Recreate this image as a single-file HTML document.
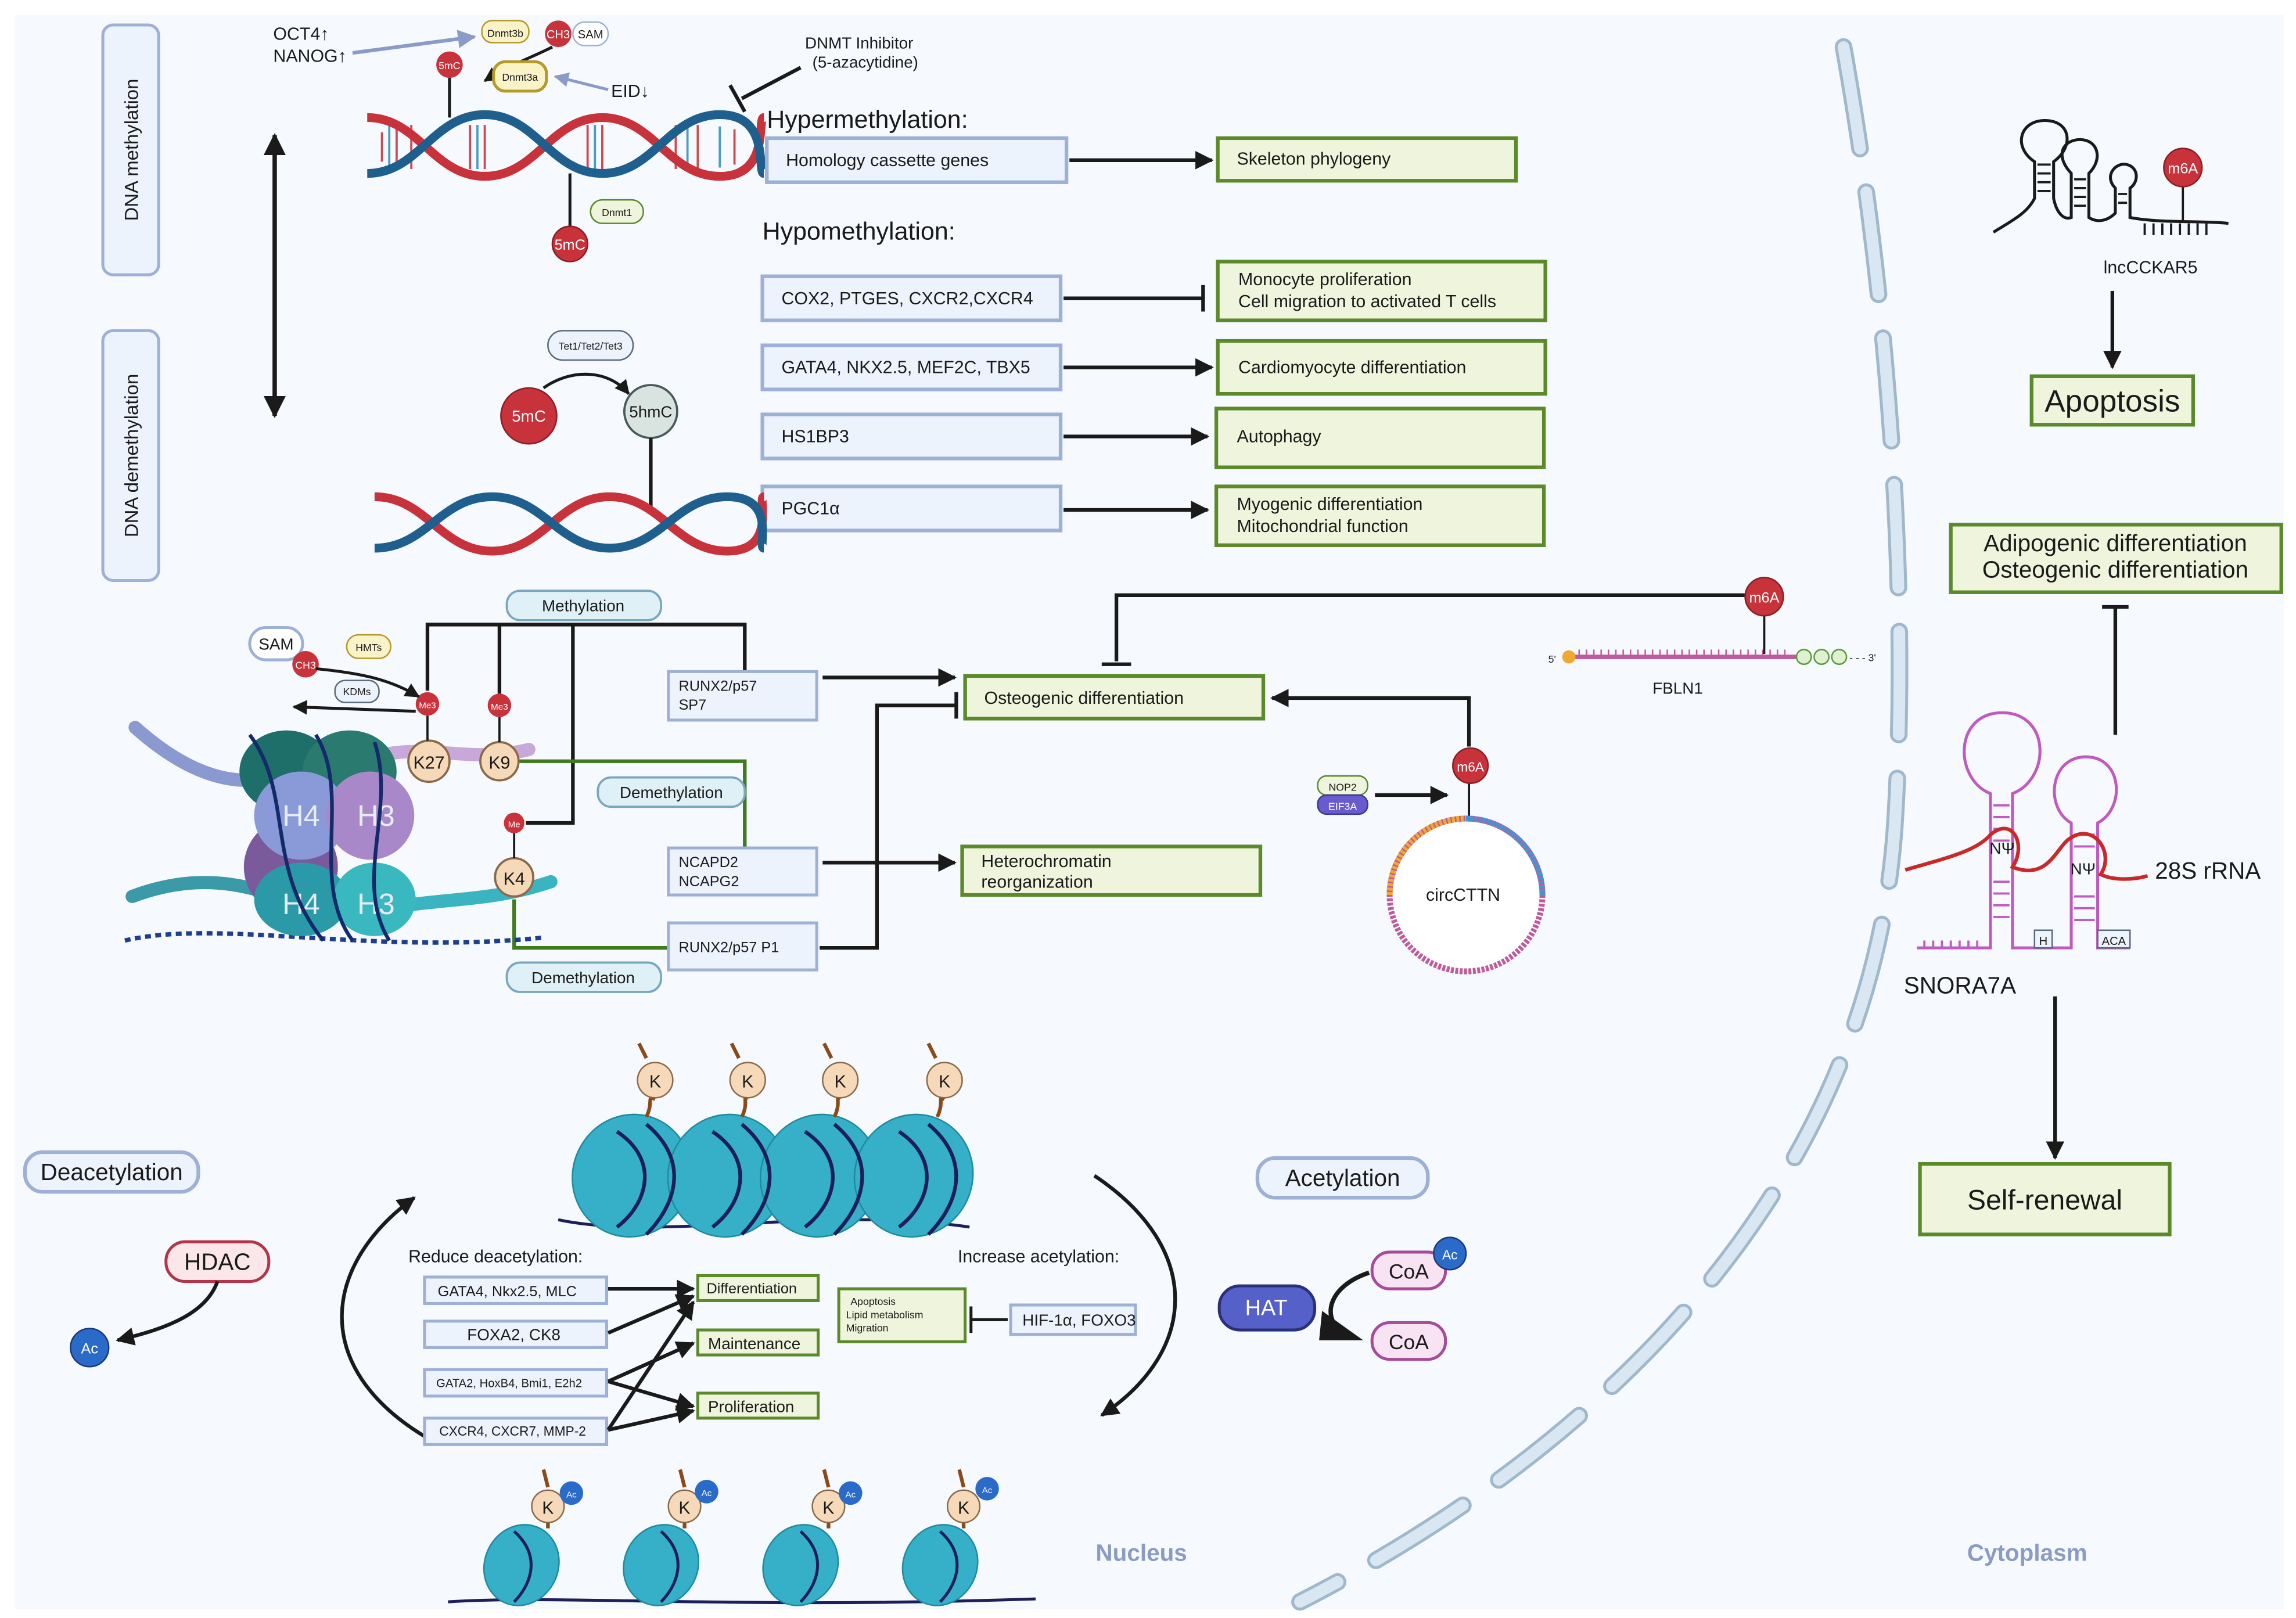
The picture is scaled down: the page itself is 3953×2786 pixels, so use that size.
<!DOCTYPE html>
<html><head><meta charset="utf-8">
<style>
html,body{margin:0;padding:0;background:#fff;}
svg{display:block;}
text{font-family:"Liberation Sans",sans-serif;fill:#1a1a1a;}
</style></head>
<body>
<svg width="3953" height="2786" viewBox="0 0 1563 1101" preserveAspectRatio="none" xmlns="http://www.w3.org/2000/svg">
<defs>
<marker id="ah" viewBox="0 0 10 10" refX="9" refY="5" markerWidth="5" markerHeight="5" orient="auto-start-reverse"><path d="M0,0 L10,5 L0,10 z" fill="#1a1a1a"/></marker>
<marker id="ahg" viewBox="0 0 10 10" refX="9" refY="5" markerWidth="5" markerHeight="5" orient="auto"><path d="M0,0 L10,5 L0,10 z" fill="#8a9bc8"/></marker>
</defs>
<rect x="0" y="0" width="1563" height="1101" fill="#fff"/>
<rect x="10" y="10" width="1545" height="1085" fill="#f6f9fe"/>

<!-- nuclear membrane dashed -->
<path d="M1255,32 C1285,200 1300,400 1290,560 C1275,800 1100,980 885,1090" fill="none" stroke="#9fb8cc" stroke-width="12" stroke-dasharray="70,30" stroke-linecap="round"/>
<path d="M1255,32 C1285,200 1300,400 1290,560 C1275,800 1100,980 885,1090" fill="none" stroke="#d8e7f2" stroke-width="8" stroke-dasharray="70,30" stroke-linecap="round"/>

<!-- side boxes -->
<rect x="70" y="17" width="38" height="170" rx="7" fill="#edf3fc" stroke="#9db1d6" stroke-width="2"/>
<text transform="translate(94,102) rotate(-90)" text-anchor="middle" font-size="13">DNA methylation</text>
<rect x="70" y="225" width="38" height="170" rx="7" fill="#edf3fc" stroke="#9db1d6" stroke-width="2"/>
<text transform="translate(94,310) rotate(-90)" text-anchor="middle" font-size="13">DNA demethylation</text>
<line x1="187" y1="92" x2="187" y2="283" stroke="#1a1a1a" stroke-width="3" marker-start="url(#ah)" marker-end="url(#ah)"/>

<!-- DNA helix top -->
<g stroke-width="1.5">
<g stroke="#d0484f">
<line x1="260" y1="90" x2="260" y2="110"/><line x1="270" y1="85" x2="270" y2="115"/><line x1="280" y1="85" x2="280" y2="115"/><line x1="320" y1="85" x2="320" y2="115"/><line x1="330" y1="85" x2="330" y2="115"/><line x1="400" y1="85" x2="400" y2="115"/><line x1="410" y1="85" x2="410" y2="115"/><line x1="460" y1="85" x2="460" y2="115"/><line x1="475" y1="85" x2="475" y2="115"/><line x1="500" y1="88" x2="500" y2="112"/>
</g>
<g stroke="#4a9cc8"><line x1="265" y1="85" x2="265" y2="115"/><line x1="325" y1="85" x2="325" y2="115"/><line x1="405" y1="85" x2="405" y2="115"/><line x1="468" y1="85" x2="468" y2="115"/><line x1="490" y1="86" x2="490" y2="114"/></g>
</g>
<path d="M250,80 C285,80 295,120 330,120 S375,80 410,80 S455,120 490,120 S515,80 520,80" fill="none" stroke="#c8323a" stroke-width="6"/>
<path d="M250,118 C285,118 295,78 330,78 S375,118 410,118 S455,78 490,78 S515,118 520,118" fill="none" stroke="#1e5f8e" stroke-width="6"/>

<!-- top labels -->
<text x="186" y="27" font-size="12">OCT4↑</text>
<text x="186" y="42" font-size="12">NANOG↑</text>
<line x1="240" y1="36" x2="323" y2="25" stroke="#8a9bc8" stroke-width="2.5" marker-end="url(#ahg)"/>
<rect x="328" y="14" width="32" height="15" rx="7" fill="#fbf3c8" stroke="#b59a2a"/><text x="344" y="25" font-size="7" text-anchor="middle">Dnmt3b</text>
<circle cx="380" cy="23" r="9" fill="#c8323a"/><text x="380" y="26" font-size="8" text-anchor="middle" style="fill:#fff">CH3</text>
<rect x="390" y="15" width="24" height="16" rx="8" fill="#fff" stroke="#9db1d6"/><text x="402" y="26" font-size="8" text-anchor="middle">SAM</text>
<path d="M376,32 C360,40 345,45 330,55" fill="none" stroke="#1a1a1a" stroke-width="2" marker-end="url(#ah)"/>
<circle cx="306" cy="44" r="9" fill="#c8323a"/><text x="306" y="47" font-size="7" text-anchor="middle" style="fill:#fff">5mC</text>
<line x1="306" y1="53" x2="306" y2="80" stroke="#1a1a1a" stroke-width="2"/>
<rect x="336" y="42" width="36" height="20" rx="8" fill="#fbf3c8" stroke="#b59a2a" stroke-width="2"/><text x="354" y="55" font-size="7" text-anchor="middle">Dnmt3a</text>
<line x1="414" y1="61" x2="378" y2="52" stroke="#8a9bc8" stroke-width="2" marker-end="url(#ahg)"/>
<text x="416" y="66" font-size="12">EID↓</text>
<line x1="388" y1="118" x2="388" y2="156" stroke="#1a1a1a" stroke-width="2"/>
<circle cx="388" cy="166" r="12" fill="#c8323a" stroke="#8a1e24"/><text x="388" y="170" font-size="10" text-anchor="middle" style="fill:#fff">5mC</text>
<rect x="402" y="136" width="36" height="16" rx="8" fill="#eef5dc" stroke="#5a8a2a"/><text x="420" y="147" font-size="7" text-anchor="middle">Dnmt1</text>
<text x="548" y="33" font-size="11">DNMT Inhibitor</text>
<text x="553" y="46" font-size="11">(5-azacytidine)</text>
<line x1="545" y1="46" x2="505" y2="67" stroke="#1a1a1a" stroke-width="2.5"/>
<line x1="497" y1="58" x2="507" y2="76" stroke="#1a1a1a" stroke-width="2.5"/>

<!-- methylation list -->
<text x="522" y="87" font-size="17">Hypermethylation:</text>
<g font-size="12">
<rect x="522" y="94" width="204" height="30" fill="#edf3fc" stroke="#9db1d6" stroke-width="2.5"/><text x="535" y="113">Homology cassette genes</text>
<line x1="728" y1="109" x2="825" y2="109" stroke="#1a1a1a" stroke-width="2.5" marker-end="url(#ah)"/>
<rect x="829" y="94" width="203" height="29" fill="#eef5dc" stroke="#5a8a2a" stroke-width="2.5"/><text x="842" y="112">Skeleton phylogeny</text>
</g>
<text x="519" y="163" font-size="17">Hypomethylation:</text>
<g font-size="12">
<rect x="519" y="188" width="203" height="30" fill="#edf3fc" stroke="#9db1d6" stroke-width="2.5"/><text x="532" y="207">COX2, PTGES, CXCR2,CXCR4</text>
<line x1="724" y1="203" x2="818" y2="203" stroke="#1a1a1a" stroke-width="2.5"/><line x1="819" y1="194" x2="819" y2="212" stroke="#1a1a1a" stroke-width="2.5"/>
<rect x="829" y="178" width="223" height="40" fill="#eef5dc" stroke="#5a8a2a" stroke-width="2.5"/><text x="843" y="194">Monocyte proliferation</text><text x="843" y="209">Cell migration to activated T cells</text>
<rect x="519" y="235" width="203" height="30" fill="#edf3fc" stroke="#9db1d6" stroke-width="2.5"/><text x="532" y="254">GATA4, NKX2.5, MEF2C, TBX5</text>
<line x1="724" y1="250" x2="825" y2="250" stroke="#1a1a1a" stroke-width="2.5" marker-end="url(#ah)"/>
<rect x="829" y="232" width="223" height="36" fill="#eef5dc" stroke="#5a8a2a" stroke-width="2.5"/><text x="843" y="254">Cardiomyocyte differentiation</text>
<rect x="519" y="282" width="203" height="30" fill="#edf3fc" stroke="#9db1d6" stroke-width="2.5"/><text x="532" y="301">HS1BP3</text>
<line x1="724" y1="297" x2="822" y2="297" stroke="#1a1a1a" stroke-width="2.5" marker-end="url(#ah)"/>
<rect x="828" y="278" width="223" height="40" fill="#eef5dc" stroke="#5a8a2a" stroke-width="2.5"/><text x="842" y="301">Autophagy</text>
<rect x="519" y="331" width="203" height="30" fill="#edf3fc" stroke="#9db1d6" stroke-width="2.5"/><text x="532" y="350">PGC1α</text>
<line x1="724" y1="347" x2="822" y2="347" stroke="#1a1a1a" stroke-width="2.5" marker-end="url(#ah)"/>
<rect x="828" y="331" width="223" height="40" fill="#eef5dc" stroke="#5a8a2a" stroke-width="2.5"/><text x="842" y="347">Myogenic differentiation</text><text x="842" y="362">Mitochondrial function</text>
</g>

<!-- demethylation helix -->
<rect x="373" y="225" width="58" height="20" rx="10" fill="#edf3fc" stroke="#5a6a7a"/><text x="402" y="238" font-size="7" text-anchor="middle">Tet1/Tet2/Tet3</text>
<path d="M370,264 C390,250 415,252 428,268" fill="none" stroke="#1a1a1a" stroke-width="2" marker-end="url(#ah)"/>
<circle cx="360" cy="283" r="19" fill="#c8323a" stroke="#8a1e24"/><text x="360" y="287" font-size="11" text-anchor="middle" style="fill:#fff">5mC</text>
<circle cx="443" cy="280" r="18" fill="#d9e4e0" stroke="#4a5a5a" stroke-width="1.5"/><text x="443" y="284" font-size="11" text-anchor="middle">5hmC</text>
<line x1="443" y1="298" x2="443" y2="345" stroke="#1a1a1a" stroke-width="2.5"/>
<path d="M255,338 C290,338 300,375 335,375 S380,338 415,338 S460,375 495,375 S515,338 520,338" fill="none" stroke="#c8323a" stroke-width="6"/>
<path d="M255,373 C290,373 300,338 335,338 S380,373 415,373 S460,338 495,338 S515,373 520,373" fill="none" stroke="#1e5f8e" stroke-width="6"/>

<!-- histone methylation -->
<rect x="345" y="402" width="105" height="20" rx="9" fill="#dff1f6" stroke="#7aa7c0" stroke-width="1.5"/><text x="397" y="416" font-size="11" text-anchor="middle">Methylation</text>
<g stroke="#1a1a1a" stroke-width="2.5" fill="none">
<path d="M291,470 L291,425 L507,425 L507,457"/>
<line x1="340" y1="425" x2="340" y2="472"/>
<path d="M390,425 L390,560 L358,560"/>
</g>
<g stroke="#3f7a1e" stroke-width="2.5" fill="none">
<path d="M352,518 L507,518 L507,577"/>
<path d="M350,612 L350,645 L455,645"/>
</g>
<rect x="407" y="529" width="100" height="20" rx="9" fill="#dff1f6" stroke="#7aa7c0" stroke-width="1.5"/><text x="457" y="543" font-size="11" text-anchor="middle">Demethylation</text>
<rect x="345" y="655" width="105" height="20" rx="9" fill="#dff1f6" stroke="#7aa7c0" stroke-width="1.5"/><text x="397" y="669" font-size="11" text-anchor="middle">Demethylation</text>
<g font-size="10">
<rect x="455" y="457" width="101" height="33" fill="#edf3fc" stroke="#9db1d6" stroke-width="2"/><text x="462" y="470">RUNX2/p57</text><text x="462" y="483">SP7</text>
<rect x="455" y="577" width="101" height="32" fill="#edf3fc" stroke="#9db1d6" stroke-width="2"/><text x="462" y="590">NCAPD2</text><text x="462" y="603">NCAPG2</text>
<rect x="455" y="628" width="101" height="32" fill="#edf3fc" stroke="#9db1d6" stroke-width="2"/><text x="462" y="648">RUNX2/p57 P1</text>
</g>
<line x1="560" y1="461" x2="650" y2="461" stroke="#1a1a1a" stroke-width="2.5" marker-end="url(#ah)"/>
<line x1="560" y1="587" x2="650" y2="587" stroke="#1a1a1a" stroke-width="2.5" marker-end="url(#ah)"/>
<path d="M558,645 L597,645 L597,480 L650,480" fill="none" stroke="#1a1a1a" stroke-width="2.5"/><line x1="651" y1="471" x2="651" y2="489" stroke="#1a1a1a" stroke-width="2.5"/>
<rect x="657" y="460" width="203" height="29" fill="#eef5dc" stroke="#5a8a2a" stroke-width="2.5"/><text x="670" y="479" font-size="12">Osteogenic differentiation</text>
<rect x="655" y="576" width="203" height="33" fill="#eef5dc" stroke="#5a8a2a" stroke-width="2.5"/><text x="668" y="590" font-size="12">Heterochromatin</text><text x="668" y="604" font-size="12">reorganization</text>
<path d="M1190,405 L760,405 L760,450" fill="none" stroke="#1a1a1a" stroke-width="2.5"/><line x1="750" y1="452" x2="770" y2="452" stroke="#1a1a1a" stroke-width="2.5"/>
<!-- FBLN1 -->
<line x1="1068" y1="447" x2="1225" y2="447" stroke="#c05a9a" stroke-width="3"/>
<g stroke="#c05a9a" stroke-width="1"><path d="M1075,442 v5 M1080,442 v5 M1085,442 v5 M1090,442 v5 M1095,442 v5 M1100,442 v5 M1105,442 v5 M1110,442 v5 M1115,442 v5 M1120,442 v5 M1125,442 v5 M1130,442 v5 M1135,442 v5 M1140,442 v5 M1145,442 v5 M1150,442 v5 M1155,442 v5 M1160,442 v5 M1165,442 v5 M1170,442 v5 M1175,442 v5 M1180,442 v5 M1185,442 v5 M1190,442 v5 M1195,442 v5 M1200,442 v5 M1205,442 v5 M1210,442 v5 M1215,442 v5"/></g>
<text x="1054" y="451" font-size="7">5'</text><circle cx="1068" cy="447" r="4.5" fill="#f0a830"/>
<circle cx="1228" cy="447" r="5" fill="#dff2d0" stroke="#5a9a3a"/><circle cx="1240" cy="447" r="5" fill="#dff2d0" stroke="#5a9a3a"/><circle cx="1252" cy="447" r="5" fill="#dff2d0" stroke="#5a9a3a"/>
<text x="1259" y="450" font-size="7">- - - 3'</text>
<line x1="1201" y1="418" x2="1201" y2="445" stroke="#1a1a1a" stroke-width="1.5"/>
<circle cx="1201" cy="406" r="13" fill="#c8323a" stroke="#8a1e24"/><text x="1201" y="410" font-size="10" text-anchor="middle" style="fill:#fff">m6A</text>
<text x="1125" y="472" font-size="11">FBLN1</text>
<!-- circCTTN -->
<path d="M1000,508 L1000,475 L866,475" fill="none" stroke="#1a1a1a" stroke-width="2.5" marker-end="url(#ah)"/>
<line x1="1000" y1="533" x2="1000" y2="556" stroke="#1a1a1a" stroke-width="1.5"/>
<circle cx="1001" cy="521" r="12" fill="#c8323a" stroke="#8a1e24"/><text x="1001" y="525" font-size="9" text-anchor="middle" style="fill:#fff">m6A</text>
<circle cx="998" cy="609" r="52" fill="#fff" stroke="#c05a9a" stroke-width="4" stroke-dasharray="2,1"/>
<path d="M998,557 A52,52 0 0 1 1050,609" fill="none" stroke="#3a9ad8" stroke-width="4" stroke-dasharray="2,1"/>
<path d="M946,609 A52,52 0 0 1 998,557" fill="none" stroke="#f0a830" stroke-width="4" stroke-dasharray="2,1"/>
<text x="996" y="613" font-size="12" text-anchor="middle">circCTTN</text>
<rect x="897" y="528" width="34" height="13" rx="6" fill="#eef5dc" stroke="#5a8a2a"/><text x="914" y="538" font-size="7" text-anchor="middle">NOP2</text>
<rect x="897" y="541" width="34" height="13" rx="6" fill="#6a5ad0" stroke="#3a3a90"/><text x="914" y="551" font-size="7" text-anchor="middle" style="fill:#fff">EIF3A</text>
<line x1="936" y1="541" x2="985" y2="541" stroke="#1a1a1a" stroke-width="2.5" marker-end="url(#ah)"/>

<!-- nucleosome -->
<path d="M85,640 C150,625 250,650 370,638" fill="none" stroke="#1e3f8e" stroke-width="3" stroke-dasharray="4,3"/>
<path d="M92,495 C120,520 150,535 180,530" fill="none" stroke="#8a9ad0" stroke-width="9" stroke-linecap="round"/>
<path d="M90,610 C130,595 160,600 190,610" fill="none" stroke="#3a9aa8" stroke-width="9" stroke-linecap="round"/>
<path d="M255,515 C290,505 320,520 360,510" fill="none" stroke="#c8a8d8" stroke-width="9" stroke-linecap="round"/>
<path d="M255,620 C300,610 330,615 375,600" fill="none" stroke="#3ab4c0" stroke-width="9" stroke-linecap="round"/>
<ellipse cx="195" cy="525" rx="32" ry="28" fill="#1e6e6a"/>
<ellipse cx="238" cy="525" rx="32" ry="28" fill="#2a7a70"/>
<ellipse cx="198" cy="590" rx="32" ry="33" fill="#7a5a9a"/>
<ellipse cx="205" cy="555" rx="32" ry="30" fill="#8a9ad8"/>
<ellipse cx="252" cy="555" rx="30" ry="30" fill="#a888c8"/>
<ellipse cx="205" cy="612" rx="32" ry="25" fill="#2a9aa8"/>
<ellipse cx="255" cy="612" rx="28" ry="25" fill="#3ab8c0"/>
<text x="205" y="562" font-size="20" text-anchor="middle" style="fill:#e6ecf8">H4</text>
<text x="256" y="562" font-size="20" text-anchor="middle" style="fill:#e6ecf8">H3</text>
<text x="205" y="622" font-size="20" text-anchor="middle" style="fill:#e6ecf8">H4</text>
<text x="256" y="622" font-size="20" text-anchor="middle" style="fill:#e6ecf8">H3</text>
<path d="M170,500 C200,540 180,590 220,640 M215,500 C240,540 210,600 240,640 M255,505 C270,550 240,600 265,640" fill="none" stroke="#142a6a" stroke-width="2.5"/>
<circle cx="292" cy="518" r="14" fill="#f5d9b8" stroke="#8a6a4a" stroke-width="1.5"/><text x="292" y="523" font-size="12" text-anchor="middle">K27</text>
<circle cx="340" cy="518" r="13" fill="#f5d9b8" stroke="#8a6a4a" stroke-width="1.5"/><text x="340" y="523" font-size="12" text-anchor="middle">K9</text>
<circle cx="350" cy="597" r="13" fill="#f5d9b8" stroke="#8a6a4a" stroke-width="1.5"/><text x="350" y="602" font-size="12" text-anchor="middle">K4</text>
<line x1="350" y1="567" x2="350" y2="584" stroke="#1a1a1a" stroke-width="1.5"/>
<circle cx="291" cy="479" r="8" fill="#c8323a"/><text x="291" y="482" font-size="6" text-anchor="middle" style="fill:#fff">Me3</text>
<circle cx="340" cy="480" r="8" fill="#c8323a"/><text x="340" y="483" font-size="6" text-anchor="middle" style="fill:#fff">Me3</text>
<circle cx="350" cy="560" r="7" fill="#c8323a"/><text x="350" y="563" font-size="6" text-anchor="middle" style="fill:#fff">Me</text>
<line x1="291" y1="487" x2="291" y2="504" stroke="#1a1a1a" stroke-width="1.5"/><line x1="340" y1="488" x2="340" y2="505" stroke="#1a1a1a" stroke-width="1.5"/>
<rect x="170" y="427" width="36" height="22" rx="11" fill="#fff" stroke="#9db1d6" stroke-width="2"/><text x="188" y="442" font-size="11" text-anchor="middle">SAM</text>
<circle cx="208" cy="452" r="9" fill="#c8323a"/><text x="208" y="455" font-size="7" text-anchor="middle" style="fill:#fff">CH3</text>
<rect x="236" y="432" width="30" height="16" rx="8" fill="#fbf3c8" stroke="#b59a2a"/><text x="251" y="443" font-size="7" text-anchor="middle">HMTs</text>
<rect x="228" y="463" width="30" height="15" rx="7" fill="#edf3fc" stroke="#5a6a7a"/><text x="243" y="473" font-size="7" text-anchor="middle">KDMs</text>
<path d="M215,455 C245,458 265,462 285,474" fill="none" stroke="#1a1a1a" stroke-width="2" marker-end="url(#ah)"/>
<line x1="283" y1="484" x2="200" y2="481" stroke="#1a1a1a" stroke-width="2" marker-end="url(#ah)"/>

<!-- bottom deacetylation -->
<rect x="17" y="784" width="118" height="27" rx="12" fill="#edf3fc" stroke="#9db1d6" stroke-width="2.5"/><text x="76" y="803" font-size="16" text-anchor="middle">Deacetylation</text>
<rect x="113" y="845" width="70" height="27" rx="13" fill="#fbe6ea" stroke="#b2354a" stroke-width="2"/><text x="148" y="864" font-size="16" text-anchor="middle">HDAC</text>
<path d="M148,872 C140,895 110,905 80,912" fill="none" stroke="#1a1a1a" stroke-width="2.5" marker-end="url(#ah)"/>
<circle cx="61" cy="917" r="13" fill="#2a6ac8" stroke="#1a3a7a"/><text x="61" y="921" font-size="10" text-anchor="middle" style="fill:#fff">Ac</text>

<!-- top nucleosomes row -->
<g>
<path d="M380,830 C450,845 560,820 660,835" fill="none" stroke="#1e1e5a" stroke-width="2"/>
<g fill="#36b0c8" stroke="#1e8aa0"><ellipse cx="430" cy="800" rx="40" ry="42" transform="rotate(25 430 800)"/><ellipse cx="495" cy="800" rx="40" ry="42" transform="rotate(25 495 800)"/><ellipse cx="558" cy="800" rx="40" ry="42" transform="rotate(25 558 800)"/><ellipse cx="622" cy="800" rx="40" ry="42" transform="rotate(25 622 800)"/></g>
<g fill="none" stroke="#1e1e5a" stroke-width="2.5"><path d="M420,770 C450,790 440,820 420,835 M440,765 C470,790 460,820 440,840"/><path d="M485,770 C515,790 505,820 485,835 M505,765 C535,790 525,820 505,840"/><path d="M548,770 C578,790 568,820 548,835 M568,765 C598,790 588,820 568,840"/><path d="M612,770 C642,790 632,820 612,835 M632,765 C662,790 652,820 632,840"/></g>
<g stroke="#8a4a1a" stroke-width="2.5" fill="none"><path d="M440,760 C445,750 440,745 446,748"/><path d="M505,760 C510,750 505,745 509,748"/><path d="M568,760 C573,750 568,745 572,748"/><path d="M638,760 C643,750 638,745 643,748"/><path d="M435,710 l5,10 M498,710 l5,10 M561,710 l5,10 M632,710 l5,10"/></g>
<g font-size="12" text-anchor="middle"><circle cx="446" cy="735" r="12" fill="#f5d9b8" stroke="#8a6a4a"/><text x="446" y="740">K</text><circle cx="509" cy="735" r="12" fill="#f5d9b8" stroke="#8a6a4a"/><text x="509" y="740">K</text><circle cx="572" cy="735" r="12" fill="#f5d9b8" stroke="#8a6a4a"/><text x="572" y="740">K</text><circle cx="643" cy="735" r="12" fill="#f5d9b8" stroke="#8a6a4a"/><text x="643" y="740">K</text></g>
</g>
<!-- curved arrows -->
<path d="M290,978 C210,930 220,860 282,815" fill="none" stroke="#1a1a1a" stroke-width="2.5" marker-end="url(#ah)"/>
<path d="M745,800 C820,850 815,920 750,963" fill="none" stroke="#1a1a1a" stroke-width="2.5" marker-end="url(#ah)"/>
<text x="278" y="859" font-size="12">Reduce deacetylation:</text>
<text x="652" y="859" font-size="12">Increase acetylation:</text>
<g font-size="10">
<rect x="289" y="869" width="124" height="18" fill="#edf3fc" stroke="#9db1d6" stroke-width="2"/><text x="298" y="882">GATA4,  Nkx2.5, MLC</text>
<rect x="289" y="899" width="124" height="18" fill="#edf3fc" stroke="#9db1d6" stroke-width="2"/><text x="318" y="912" font-size="11">FOXA2, CK8</text>
<rect x="289" y="932" width="124" height="18" fill="#edf3fc" stroke="#9db1d6" stroke-width="2"/><text x="297" y="944" font-size="8">GATA2, HoxB4, Bmi1, E2h2</text>
<rect x="289" y="965" width="124" height="18" fill="#edf3fc" stroke="#9db1d6" stroke-width="2"/><text x="299" y="977" font-size="9">CXCR4, CXCR7, MMP-2</text>
<rect x="475" y="868" width="82" height="17" fill="#eef5dc" stroke="#5a8a2a" stroke-width="2"/><text x="481" y="880">Differentiation</text>
<rect x="475" y="905" width="82" height="17" fill="#eef5dc" stroke="#5a8a2a" stroke-width="2"/><text x="482" y="918" font-size="11">Maintenance</text>
<rect x="475" y="948" width="82" height="17" fill="#eef5dc" stroke="#5a8a2a" stroke-width="2"/><text x="482" y="961" font-size="11">Proliferation</text>
<rect x="571" y="877" width="86" height="36" fill="#eef5dc" stroke="#5a8a2a" stroke-width="2"/><text x="579" y="888" font-size="7">Apoptosis</text><text x="576" y="897" font-size="7">Lipid metabolism</text><text x="576" y="906" font-size="7">Migration</text>
<rect x="688" y="888" width="85" height="20" fill="#edf3fc" stroke="#9db1d6" stroke-width="2"/><text x="696" y="902" font-size="11">HIF-1α, FOXO3</text>
</g>
<line x1="686" y1="898" x2="661" y2="898" stroke="#1a1a1a" stroke-width="2"/><line x1="661" y1="889" x2="661" y2="907" stroke="#1a1a1a" stroke-width="2"/>
<g stroke="#1a1a1a" stroke-width="2.5" marker-end="url(#ah)">
<line x1="414" y1="877" x2="472" y2="877"/>
<line x1="414" y1="907" x2="472" y2="882"/>
<line x1="414" y1="940" x2="472" y2="914"/>
<line x1="414" y1="940" x2="472" y2="957"/>
<line x1="414" y1="973" x2="472" y2="886"/>
<line x1="414" y1="973" x2="472" y2="960"/>
</g>
<!-- acetylation -->
<rect x="856" y="788" width="116" height="27" rx="12" fill="#edf3fc" stroke="#9db1d6" stroke-width="2.5"/><text x="914" y="807" font-size="16" text-anchor="middle">Acetylation</text>
<rect x="830" y="875" width="65" height="30" rx="14" fill="#5560c8" stroke="#2a307a" stroke-width="2"/><text x="862" y="895" font-size="15" text-anchor="middle" style="fill:#fff">HAT</text>
<rect x="934" y="852" width="50" height="25" rx="12" fill="#f8e3f3" stroke="#a64b9a" stroke-width="2"/><text x="959" y="870" font-size="14" text-anchor="middle">CoA</text>
<circle cx="987" cy="853" r="11" fill="#2a6ac8" stroke="#1a3a7a"/><text x="987" y="857" font-size="9" text-anchor="middle" style="fill:#fff">Ac</text>
<rect x="934" y="900" width="50" height="25" rx="12" fill="#f8e3f3" stroke="#a64b9a" stroke-width="2"/><text x="959" y="918" font-size="14" text-anchor="middle">CoA</text>
<path d="M932,866 C905,875 900,895 912,905" fill="none" stroke="#1a1a1a" stroke-width="3"/>
<path d="M900,892 L928,912 L898,912 z" fill="#1a1a1a"/>

<!-- bottom acetylated nucleosomes -->
<path d="M305,1090 C380,1085 500,1095 705,1088" fill="none" stroke="#1e1e5a" stroke-width="2"/>
<g fill="#36b0c8" stroke="#1e8aa0"><ellipse cx="355" cy="1065" rx="25" ry="28" transform="rotate(25 355 1065)"/><ellipse cx="450" cy="1065" rx="25" ry="28" transform="rotate(25 450 1065)"/><ellipse cx="545" cy="1065" rx="25" ry="28" transform="rotate(25 545 1065)"/><ellipse cx="640" cy="1065" rx="25" ry="28" transform="rotate(25 640 1065)"/></g>
<g fill="none" stroke="#1e1e5a" stroke-width="2"><path d="M350,1042 C370,1060 360,1080 350,1090 M450,1042 C470,1060 460,1080 450,1090 M545,1042 C565,1060 555,1080 545,1090 M640,1042 C660,1060 650,1080 640,1090"/></g>
<g stroke="#8a4a1a" stroke-width="2.5" fill="none"><path d="M373,1040 v-5 M466,1040 v-5 M564,1040 v-5 M656,1040 v-5 M370,1000 l3,12 M463,1000 l3,12 M561,1000 l3,12 M653,1000 l3,12"/></g>
<g font-size="12" text-anchor="middle">
<circle cx="373" cy="1025" r="11" fill="#f5d9b8" stroke="#8a6a4a"/><text x="373" y="1030">K</text><circle cx="389" cy="1016" r="8" fill="#2a6ac8"/><text x="389" y="1019" font-size="6" style="fill:#fff">Ac</text>
<circle cx="466" cy="1025" r="11" fill="#f5d9b8" stroke="#8a6a4a"/><text x="466" y="1030">K</text><circle cx="481" cy="1015" r="8" fill="#2a6ac8"/><text x="481" y="1018" font-size="6" style="fill:#fff">Ac</text>
<circle cx="564" cy="1025" r="11" fill="#f5d9b8" stroke="#8a6a4a"/><text x="564" y="1030">K</text><circle cx="579" cy="1016" r="8" fill="#2a6ac8"/><text x="579" y="1019" font-size="6" style="fill:#fff">Ac</text>
<circle cx="656" cy="1025" r="11" fill="#f5d9b8" stroke="#8a6a4a"/><text x="656" y="1030">K</text><circle cx="672" cy="1013" r="8" fill="#2a6ac8"/><text x="672" y="1016" font-size="6" style="fill:#fff">Ac</text>
</g>
<text x="777" y="1062" font-size="16" font-weight="bold" text-anchor="middle" style="fill:#8a9bc4">Nucleus</text>
<text x="1380" y="1062" font-size="16" font-weight="bold" text-anchor="middle" style="fill:#8a9bc4">Cytoplasm</text>

<!-- lncCCKAR5 -->
<g fill="none" stroke="#1a1a1a" stroke-width="2">
<path d="M1357,158 C1370,150 1380,145 1385,135 L1385,110 C1370,100 1375,82 1392,82 C1410,82 1412,100 1398,110 L1398,135 C1400,145 1405,150 1410,148 L1410,118 C1398,105 1405,95 1416,95 C1428,95 1432,108 1422,118 L1422,148 C1428,152 1435,150 1440,145 L1440,128 C1432,120 1440,110 1448,112 C1456,114 1456,124 1450,128 L1450,148 C1470,152 1500,150 1517,152"/>
<path d="M1387,112 h9 M1387,118 h9 M1387,124 h9 M1387,130 h9 M1412,122 h8 M1412,128 h8 M1412,134 h8 M1412,140 h8 M1442,132 h6 M1442,138 h6 M1460,152 v8 M1466,152 v8 M1472,152 v8 M1478,152 v8 M1484,152 v8 M1490,152 v8 M1496,152 v8 M1502,152 v8" stroke-width="1.5"/>
</g>
<line x1="1486" y1="126" x2="1486" y2="150" stroke="#1a1a1a" stroke-width="1.5"/>
<circle cx="1486" cy="114" r="13" fill="#c8323a" stroke="#8a1e24"/><text x="1486" y="118" font-size="10" text-anchor="middle" style="fill:#fff">m6A</text>
<text x="1464" y="186" font-size="12" text-anchor="middle">lncCCKAR5</text>
<line x1="1438" y1="198" x2="1438" y2="250" stroke="#1a1a1a" stroke-width="2.5" marker-end="url(#ah)"/>
<rect x="1383" y="256" width="110" height="33" fill="#eef5dc" stroke="#5a8a2a" stroke-width="2.5"/><text x="1438" y="280" font-size="21" text-anchor="middle">Apoptosis</text>
<rect x="1328" y="357" width="225" height="46" fill="#eef5dc" stroke="#5a8a2a" stroke-width="2.5"/><text x="1440" y="375" font-size="16" text-anchor="middle">Adipogenic differentiation</text><text x="1440" y="393" font-size="16" text-anchor="middle">Osteogenic differentiation</text>
<line x1="1440" y1="500" x2="1440" y2="413" stroke="#1a1a1a" stroke-width="2.5"/><line x1="1431" y1="413" x2="1449" y2="413" stroke="#1a1a1a" stroke-width="2.5"/>

<!-- SNORA7A -->
<g fill="none" stroke="#c05ac0" stroke-width="2">
<path d="M1305,645 L1355,645 L1355,540 C1330,530 1330,485 1363,485 C1396,485 1396,530 1370,540 L1370,645 L1410,645 L1410,560 C1392,550 1395,515 1420,515 C1445,515 1447,550 1428,560 L1428,645 L1450,645"/>
<path d="M1357,548 h11 M1357,556 h11 M1357,564 h11 M1357,572 h11 M1357,600 h11 M1357,608 h11 M1357,616 h11 M1357,624 h11 M1412,568 h14 M1412,576 h14 M1412,610 h14 M1412,618 h14 M1412,626 h14 M1310,640 v5 M1316,640 v5 M1322,640 v5 M1328,640 v5 M1334,640 v5 M1340,640 v5 M1346,640 v5" stroke-width="1.5"/>
</g>
<path d="M1297,592 C1320,585 1345,580 1355,568 C1370,555 1380,575 1370,590 C1395,600 1400,575 1410,570 C1425,560 1440,580 1430,595 C1440,600 1455,598 1462,596" fill="none" stroke="#c82a2a" stroke-width="2.5"/>
<text x="1363" y="581" font-size="11" text-anchor="middle">NΨ</text>
<text x="1418" y="595" font-size="11" text-anchor="middle">NΨ</text>
<rect x="1385" y="633" width="12" height="12" fill="#edf3fc" stroke="#5a6a7a"/><text x="1391" y="643" font-size="8" text-anchor="middle">H</text>
<rect x="1428" y="633" width="22" height="12" fill="#edf3fc" stroke="#5a6a7a"/><text x="1439" y="643" font-size="8" text-anchor="middle">ACA</text>
<text x="1467" y="598" font-size="16">28S rRNA</text>
<text x="1296" y="676" font-size="16">SNORA7A</text>
<line x1="1399" y1="678" x2="1399" y2="788" stroke="#1a1a1a" stroke-width="2.5" marker-end="url(#ah)"/>
<rect x="1307" y="792" width="170" height="48" fill="#eef5dc" stroke="#5a8a2a" stroke-width="2.5"/><text x="1392" y="823" font-size="19" text-anchor="middle">Self-renewal</text>
</svg>
</body></html>
